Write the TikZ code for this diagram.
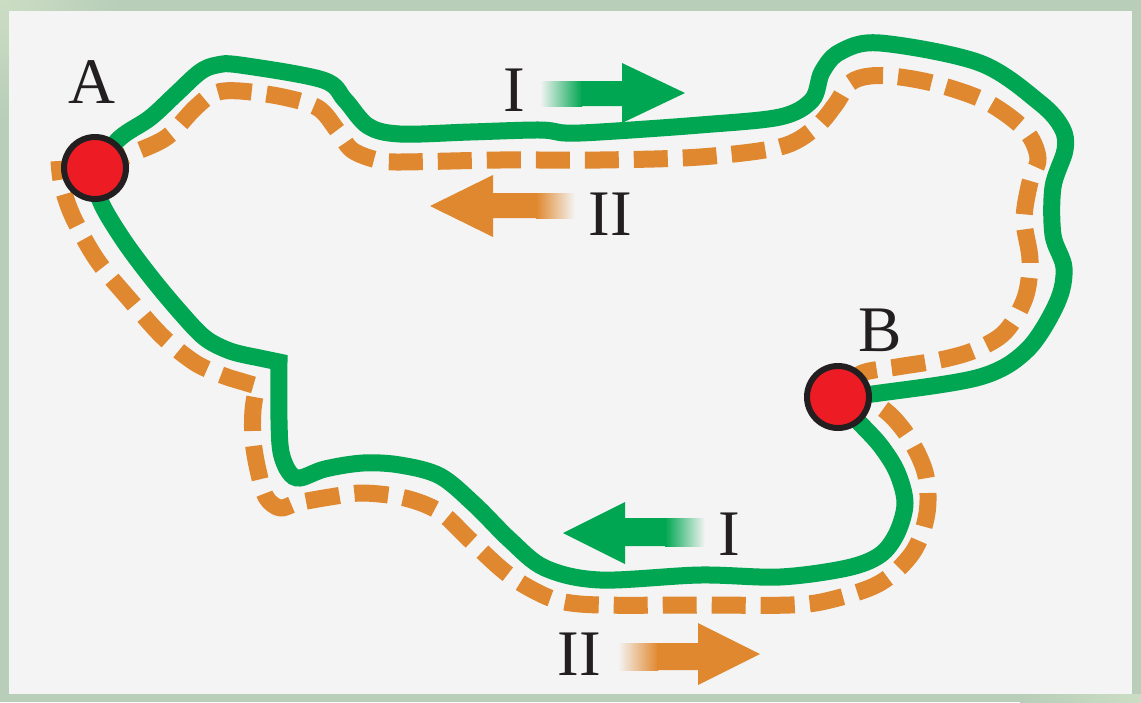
\documentclass[tikz,border=0pt]{standalone}
\usepackage{fontspec}
\setmainfont{Liberation Serif}
\definecolor{pgreen}{HTML}{00A651}
\definecolor{porange}{HTML}{E0882F}
\definecolor{pred}{HTML}{ED1C24}
\definecolor{pblack}{HTML}{231F20}
\definecolor{frameclr}{HTML}{B8CEB8}
\definecolor{frameclrlight}{HTML}{CCDDC4}
\definecolor{paper}{HTML}{F4F4F4}
\tikzset{
  greenroute/.style={draw=pgreen, line width=17pt, line join=miter, line cap=butt},
  orangeroute/.style={draw=porange, line width=17pt, dash pattern=on 34pt off 15pt, line join=round, line cap=butt},
  stationdot/.style={circle, fill=pred, draw=pblack, line width=6pt, minimum size=62pt, inner sep=0pt},
  lbl/.style={font=\fontsize{65}{65}\selectfont, text=pblack, inner sep=0pt},
}
\begin{document}
\begin{tikzpicture}[x=1pt,y=-1pt]
\useasboundingbox (0,0) rectangle (1141,702);
% frame and paper
\fill[frameclr] (0,0) rectangle (1141,702);
\shade[left color=frameclrlight, right color=frameclr] (0,0) rectangle (120,11);
\shade[top color=frameclrlight, bottom color=frameclr] (0,0) rectangle (9,120);
\shade[left color=frameclr, right color=frameclrlight] (1020,694) rectangle (1141,702);
\fill[paper] (9,11) rectangle (1132,694);
% station positions
\coordinate (A) at (95,168);
\coordinate (B) at (838,397);
\coordinate (Aend) at (59,161);
% orange dashed route II
\draw[orangeroute] plot[smooth, tension=0.55] coordinates {(A) (133,153) (167,137) (195,108) (215,93) (240,91) (283,97) (318,108) (337,130) (352,150) (377,160) (400,162) (500,160) (600,160) (700,157) (780,147) (815,128) (835,105) (850,83) (870,76) (900,77) (940,85) (987,102) (1025,130) (1038,158) (1030,182) (1024,220) (1030,260) (1025,298) (1005,332) (975,350) (940,360) (897,367) (860,374) (B) (877,405) (905,432) (925,472) (927,513) (913,552) (880,583) (830,600) (790,605) (700,605) (600,605) (560,601) (533,590) (505,572) (470,540) (440,512) (405,498) (363,493) (330,497) (297,503) (280,508) (266,497) (258,470) (253,440) (253,410) (257,386)}
  -- plot[smooth, tension=0.55] coordinates {(230,378) (197,364) (163,337) (130,300) (97,260) (73,217) (62,185) (Aend)};
% green solid route I
\draw[greenroute] plot[smooth, tension=0.55] coordinates {(A) (120,138) (150,118) (176,94) (200,72) (217,65) (240,65) (323,80) (345,100) (368,126) (400,134) (470,132) (540,130) (565,133) (600,132) (700,125) (780,117) (812,100) (822,72) (840,52) (880,43) (980,63) (1040,103) (1062,128) (1065,150) (1053,187) (1053,235) (1064,268) (1057,303) (1027,350) (980,377) (880,393) (B)};
\draw[greenroute] plot[smooth, tension=0.55] coordinates {(B) (857,420) (880,445) (897,472) (905,503) (897,533) (880,555) (847,568) (780,577) (700,575) (600,580) (545,568) (510,540) (475,505) (440,476) (400,465) (363,463) (325,469) (300,478) (289,472) (281,452) (279,420) (279,362)}
  -- plot[smooth, tension=0.55] coordinates {(255,357) (230,351) (205,338) (180,312) (150,276) (122,238) (100,200) (A)};
% stations
\node[stationdot] (ptA) at (A) {};
\node[stationdot] (ptB) at (B) {};
% direction arrows
\shade[left color=paper, right color=pgreen] (540,81) rectangle (582,106);
\fill[pgreen] (581,81) -- (622,81) -- (622,63) -- (685,93) -- (622,123) -- (622,106) -- (581,106) -- cycle;
\fill[porange] (537,193) -- (493,193) -- (493,175) -- (430,206) -- (493,237) -- (493,218) -- (537,218) -- cycle;
\shade[left color=porange, right color=paper] (536,193) rectangle (575,218);
\fill[pgreen] (666,518) -- (625,518) -- (625,502) -- (563,533) -- (625,564) -- (625,546) -- (666,546) -- cycle;
\shade[left color=pgreen, right color=paper] (665,518) rectangle (705,546);
\shade[left color=paper, right color=porange] (618,643) rectangle (658,670);
\fill[porange] (657,643) -- (698,643) -- (698,623) -- (760,654) -- (698,685) -- (698,670) -- (657,670) -- cycle;
% labels
\node[lbl] (labA) at (92,82) {A};
\node[lbl] (labB) at (880,330) {B};
\node[lbl] (labI1) at (514,90) {I};
\node[lbl] (labII1) at (610,214) {II};
\node[lbl] (labI2) at (729,534) {I};
\node[lbl] (labII2) at (579,654) {II};
\end{tikzpicture}
\end{document}
